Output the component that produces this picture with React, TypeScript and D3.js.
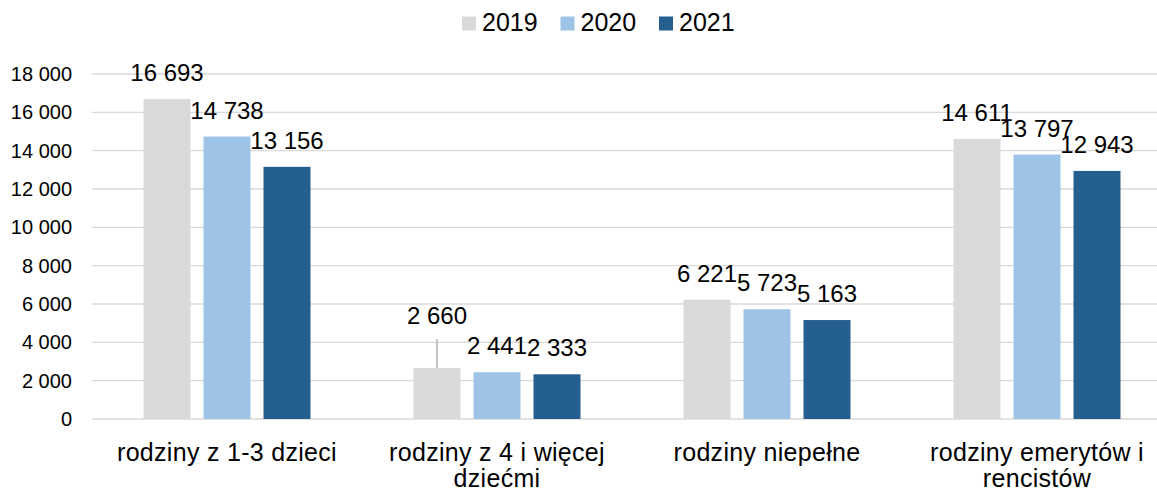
import React from "react";
import * as d3 from "d3";

const categories = [
  "rodziny z 1-3 dzieci",
  "rodziny z 4 i więcej dziećmi",
  "rodziny niepełne",
  "rodziny emerytów i rencistów",
];
const seriesNames = ["2019", "2020", "2021"];
const values2019 = [16693, 2660, 6221, 14611];
const values2020 = [14738, 2441, 5723, 13797];
const values2021 = [13156, 2333, 5163, 12943];
const yTicks = [0, 2000, 4000, 6000, 8000, 10000, 12000, 14000, 16000, 18000];
const colors = ["#D9D9D9", "#9DC3E6", "#255E91"];

const W = 1157;
const H = 490;
const FONT = "'Liberation Sans', Arial, sans-serif";

const fmt = (v: number) => {
  const s = String(v);
  return s.replace(/\B(?=(\d{3})+(?!\d))/g, " ");
};

function wrap(text: string, font: string, maxW: number): string[] {
  const c = document.createElement("canvas").getContext("2d")!;
  c.font = font;
  const words = text.split(" ");
  const lines: string[] = [];
  let cur = "";
  for (const w of words) {
    const t = cur ? cur + " " + w : w;
    if (c.measureText(t).width > maxW && cur) {
      lines.push(cur);
      cur = w;
    } else cur = t;
  }
  if (cur) lines.push(cur);
  return lines;
}

export default function App() {
  const series = [values2019, values2020, values2021];
  const x0 = d3.scaleBand<string>().domain(categories).range([92, 1172]).paddingInner(0).paddingOuter(0);
  const x1 = d3
    .scaleBand<string>()
    .domain(seriesNames)
    .range([0, 167])
    .paddingInner(13 / 60);
  const groupOffset = (x0.bandwidth() - 167) / 2;
  const y = d3.scaleLinear().domain([0, 18000]).range([419, 74]);

  const labelFont = `25px ${FONT}`;

  return (
    <svg
      width={W}
      height={H}
      style={{ position: "absolute", left: 0, top: 0, background: "#fff" }}
      fontFamily={FONT}
    >
      <rect width={W} height={H} fill="#fff" />
      {/* gridlines */}
      {yTicks.map((t) => (
        <g key={t}>
          <line x1={92} x2={1172} y1={y(t)} y2={y(t)} stroke="#D9D9D9" strokeWidth={1.4} />
          <text x={72} y={y(t) + 7} textAnchor="end" fontSize={20} fill="#000">
            {fmt(t)}
          </text>
        </g>
      ))}
      {/* bars */}
      {categories.map((cat, ci) => (
        <g key={cat} transform={`translate(${x0(cat)! + groupOffset},0)`}>
          {seriesNames.map((sn, si) => {
            const v = series[si][ci];
            const bx = x1(sn)!;
            const bw = x1.bandwidth();
            const top = y(v);
            const cx = bx + bw / 2;
            const lifted = ci === 1 && si === 0;
            const base = top - 18 - (lifted ? 26 : 0);
            return (
              <g key={sn}>
                <rect x={bx} y={top} width={bw} height={y(0) - top} fill={colors[si]} />
                {lifted && (
                  <line x1={cx} x2={cx} y1={base + 15} y2={top} stroke="#A6A6A6" strokeWidth={1.3} />
                )}
                <text x={cx} y={base} textAnchor="middle" fontSize={24} fill="#000">
                  {fmt(v)}
                </text>
              </g>
            );
          })}
        </g>
      ))}
      {/* category labels */}
      {categories.map((cat) => {
        const lines = wrap(cat, labelFont, 255);
        const cx = x0(cat)! + x0.bandwidth() / 2;
        return (
          <text key={cat} x={cx} textAnchor="middle" fontSize={25} letterSpacing={0.3} fill="#000">
            {lines.map((l, i) => (
              <tspan key={i} x={cx} y={460.5 + i * 26}>
                {l}
              </tspan>
            ))}
          </text>
        );
      })}
      {/* legend */}
      {seriesNames.map((sn, i) => {
        const lx = 462 + i * 98.5;
        return (
          <g key={sn}>
            <rect x={lx} y={16.5} width={14} height={14} fill={colors[i]} />
            <text x={lx + 20} y={31} fontSize={25} fill="#000">
              {sn}
            </text>
          </g>
        );
      })}
    </svg>
  );
}
